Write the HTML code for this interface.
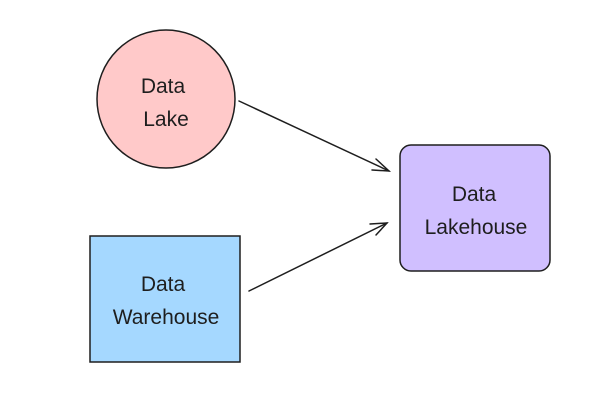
<!DOCTYPE html>
<html><head><style>html,body{margin:0;padding:0;background:#fff}</style></head>
<body>
<svg width="600" height="400" viewBox="0 0 600 400" xmlns="http://www.w3.org/2000/svg">
<rect width="600" height="400" fill="#fff"/>
<circle cx="166" cy="99" r="69" fill="#ffc9c9" stroke="#1e1e1e" stroke-width="1.5"/>
<rect x="90" y="236" width="150" height="126" fill="#a5d8ff" stroke="#1e1e1e" stroke-width="1.5"/>
<rect x="400" y="145" width="150" height="126" rx="11" fill="#d0bfff" stroke="#1e1e1e" stroke-width="1.5"/>
<g stroke="#1e1e1e" stroke-width="1.5" fill="none" stroke-linecap="round">
<line x1="239" y1="101" x2="389" y2="171"/>
<polyline points="376,159 389,171 372,170"/>
<line x1="249" y1="291" x2="387" y2="223"/>
<polyline points="370,224 387,223 376,235"/>
</g>
<g font-family="'Liberation Sans', sans-serif" font-size="21" fill="#1e1e1e" text-anchor="middle">
<text x="163" y="93">Data</text>
<text x="166" y="126">Lake</text>
<text x="163" y="291">Data</text>
<text x="166" y="324">Warehouse</text>
<text x="474" y="201">Data</text>
<text x="476" y="234">Lakehouse</text>
</g>
</svg>
</body></html>
